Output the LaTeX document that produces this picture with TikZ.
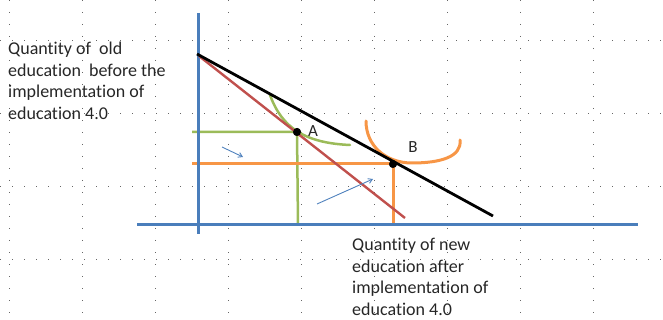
\documentclass[tikz,border=0pt]{standalone}
\usepackage{fontspec}
\setmainfont{Carlito}[Ligatures=NoCommon]
\usetikzlibrary{arrows.meta}
\definecolor{axisblue}{HTML}{4A7EBB}
\definecolor{lred}{HTML}{C0504D}
\definecolor{lgreen}{HTML}{9BBB59}
\definecolor{lorange}{HTML}{F79646}
\definecolor{arrblue}{HTML}{4F81BD}
\tikzset{
  griddots/.style={black!60,line width=0.9pt,dash pattern=on 0.9pt off 11.1pt},
  axisline/.style={axisblue,line width=3pt},
  budget/.style={line width=2.8pt},
  guide/.style={line width=2.5pt},
  pointdot/.style={circle,fill=black,inner sep=0pt,minimum size=8pt},
  ptlabel/.style={font=\fontsize{17}{20}\selectfont,inner sep=0pt,text=black!85},
  bodytext/.style={font=\fontsize{18}{21.5}\selectfont,align=left,inner sep=0pt,anchor=north west,text=black!85},
  movearrow/.style={arrblue,line width=0.9pt,-{Straight Barb[length=4pt,width=5pt]}}
}
\begin{document}
\begin{tikzpicture}[x=1pt,y=-1pt]
\useasboundingbox (0,0) rectangle (663,320);
% dotted grid
\foreach \gx in {9.5,82.5,155.5,228.5,301.5,374.5,447.5,520.5,593.5}
  \draw[griddots] (\gx,0) -- (\gx,320);
\foreach \gy in {40,113,186,259}
  \draw[griddots] (0,\gy) -- (663,\gy);
% texts
\node[bodytext] (oldtxt) at (8,42) {Quantity of\ \ old\\education\ \ before the\\implementation of\\education 4.0};
\node[bodytext] (newtxt) at (352,238) {Quantity of new\\education after\\implementation of\\education 4.0};
% coordinates
\coordinate (ytop) at (198,13);
\coordinate (ybot) at (198,234);
\coordinate (xl) at (137,225);
\coordinate (xr) at (638,225);
\coordinate (bstart) at (197,54);
\coordinate (bend) at (493,216);
\coordinate (rstart) at (199,56);
\coordinate (rend) at (405,218);
\node[pointdot] (A) at (297,132) {};
\node[pointdot] (B) at (393,164) {};
\coordinate (gl) at (192,132);
\coordinate (gb) at (298,225);
\coordinate (ol) at (192,164);
\coordinate (ob) at (393,226);
% guide lines
\draw[guide,lgreen] (gl) -- (A.center) -- (gb);
\draw[guide,lorange,line width=3pt] (ol) -- (B.center) -- (ob);
% indifference curves
\draw[guide,lgreen,line cap=round] (270,95) .. controls (282,128) and (305,143) .. (350,145);
\draw[guide,lorange,line width=3pt,line cap=round] (366,121) .. controls (366,146) and (386,163) .. (412,163) .. controls (440,163) and (462,157) .. (460,140);
% axes
\draw[axisline] (ytop) -- (ybot);
\draw[axisline] (xl) -- (xr);
% budget lines
\draw[budget,lred,line width=2.4pt] (rstart) -- (rend);
\draw[budget,black] (bstart) -- (bend);
% dots on top
\node[pointdot] at (A) {};
\node[pointdot] at (B) {};
% labels
\node[ptlabel] (lA) at (313,131) {A};
\node[ptlabel] (lB) at (413,147) {B};
% arrows
\coordinate (a1s) at (222,147);
\coordinate (a1e) at (243,157);
\coordinate (a2s) at (317,204);
\coordinate (a2e) at (373,179);
\draw[movearrow] (a1s) -- (a1e);
\draw[movearrow] (a2s) -- (a2e);
\end{tikzpicture}
\end{document}
